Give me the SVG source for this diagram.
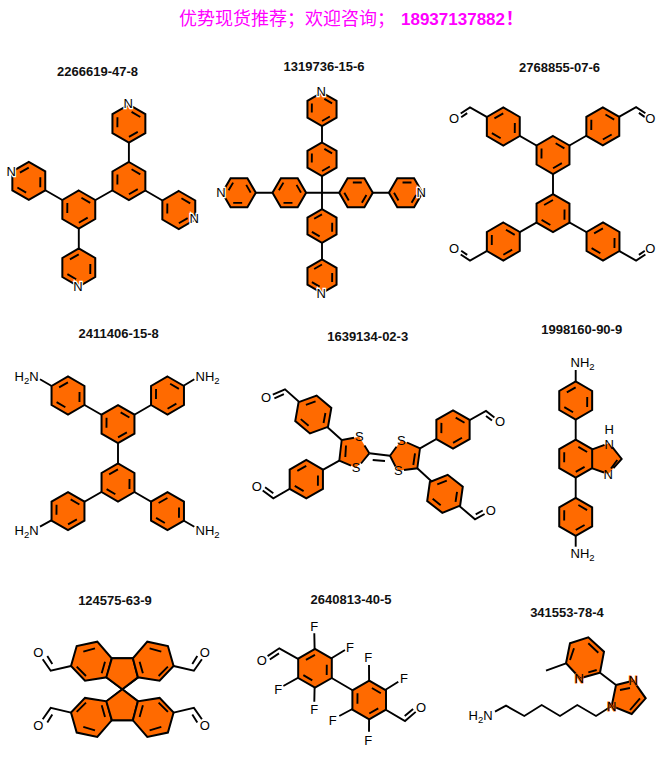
<svg xmlns="http://www.w3.org/2000/svg" xmlns:xlink="http://www.w3.org/1999/xlink" width="672" height="758" viewBox="0 0 672 758">
<style>
text{font-family:"Liberation Sans","Noto Sans CJK SC",sans-serif}
.h{font-size:18px;fill:#f0f}
.t{font-size:13px;font-weight:bold;fill:#111;text-anchor:middle}
.a{font-size:13px;fill:#000;text-anchor:middle;paint-order:stroke;stroke:#fff;stroke-width:2.4px}
.i{stroke:#ff6a00;stroke-width:1.2px}
.n{stroke:none}
.s{font-size:13px;fill:#000;paint-order:stroke;stroke:#fff;stroke-width:1.5px}
.sub{font-size:9.5px}
.ring{fill:#ff6a00;stroke:#000;stroke-width:2;stroke-linejoin:miter;vector-effect:non-scaling-stroke}
.f{fill:#ff6a00;stroke:none}
.d{fill:none;stroke:#000;stroke-width:1.9;vector-effect:non-scaling-stroke}
#connectors path,#connectors use{fill:none;stroke:#000;stroke-width:1.9}
</style>
<defs>
<g id="r"><polygon class="ring" points="0,-1 .866,-.5 .866,.5 0,1 -.866,.5 -.866,-.5"/><path class="d" d="M.14 -.62L.6 -.35M.467 .431L.003 .695M-.607 .189L-.603 -.345"/></g>
<path id="cho" d="M0 0L-16.7 -9.5L-26 -3.4M-19.5 -3.8L-25.5 .4"/>
<g id="fc"><path d="M71 666L50.7 670.7L42.7 659.3M52.3 664L47.3 656"/></g>
<g id="fl"><polygon class="ring" points="122.3,689.3 106.7,677.3 111.7,658.3 132.7,658.3 138.3,677.3"/><polygon class="ring" points="111.7,658.3 106.7,677.3 85,680.7 71,666 76.7,646 97.3,641.7"/><path class="d" d="M83.3 651.7L95 648.3M105 661.7L101.7 673.3M76.7 666.7L86 676"/></g>
</defs>
<rect width="672" height="758" fill="#fff"/>
<text class="h" x="179" y="25">优势现货推荐；欢迎咨询；<tspan font-weight="bold" font-size="17" x="401">18937137882</tspan><tspan font-weight="bold" x="505.5">！</tspan></text>
<g id="connectors">
<path d="M128.9 181V123.7M128.9 181L78.8 209.5M128.9 181L178.8 210M78.8 209.5L28.8 180.8M78.8 209.5V267.5"/>
<path d="M322 109V276M239 192.7H405.7"/>
<path d="M553 155V213.2M553 155L503.3 126.5M553 155L602.8 126.3M553 213.2L503.3 241.5M553 213.2L603 241.5"/>
<use href="#cho" transform="translate(486.7,116.9)"/>
<use href="#cho" transform="translate(619.4,116.7) scale(-1,1)"/>
<use href="#cho" transform="translate(486.7,251.1) scale(1,-1)"/>
<use href="#cho" transform="translate(619.4,251.1) scale(-1,-1)"/>
<path d="M118 424.2V482.5M118 424.2L68 395.5M118 424.2L167.5 395.5M118 482.5L68 511.2M118 482.5L167.5 511.2M68 395.5L40 379.3M167.5 395.5L194.3 379.3M68 511.2L40 526.7M167.5 511.2L194.3 526.7"/>
<path d="M313.3 414.5L341.7 440M313.3 414.5L285 389.3L272.8 394.7M283.9 394.2L274.4 398.4"/>
<path d="M306.3 479.2L339.3 460.7M306.3 479.2L273.3 498.3L262.7 490.5M273.3 493.3L265.1 487.3"/>
<path d="M453 429.5L420 448.3M453 429.5L486 411L494.4 417.4M486 416L492 420.6"/>
<path d="M445 493.8L417.3 468.3M445 493.8L475 519.3L484.6 514M475.7 514.4L482.7 510.5"/>
<path d="M369.3 453.3L390 455.7M372.7 460L385 461"/>
<path d="M575.7 370V546.7"/>
<use href="#fc"/>
<use href="#fc" transform="translate(244.6,0) scale(-1,1)"/>
<use href="#fc" transform="translate(0,1378.6) scale(1,-1)"/>
<use href="#fc" transform="translate(244.6,1378.6) scale(-1,-1)"/>
<path d="M315 668.3L369.2 700M315 668.3L314.3 633.3M315 668.3L345 650M315 668.3L283.3 686M315 668.3L314.3 701.7M315 668.3L279.3 648.3L267.6 656.1M279 653.4L269.8 659.5"/>
<path d="M369.2 700L369 665M369.2 700L398.3 681.7M369.2 700L339.3 716M369.2 700L369 731.7M369.2 700L405 721L415.7 711.9M404.7 716L413.1 708.9"/>
<path d="M566 663.3L546 670.7M600 672.7L616 685M611.7 706L596 716L577.3 705L560 716L541.7 705L524.3 716L506 705.7L495 711.7"/>
</g>
<g id="m1">
<text class="t" x="97.5" y="76">2266619-47-8</text>
<use href="#r" transform="translate(128.9,123.7) scale(19)"/>
<use href="#r" transform="translate(128.9,181) scale(19)"/>
<use href="#r" transform="translate(78.8,209.5) scale(19)"/>
<use href="#r" transform="translate(178.8,210) scale(19)"/>
<use href="#r" transform="translate(28.8,180.8) rotate(60) scale(19)"/>
<use href="#r" transform="translate(78.8,267.5) rotate(60) scale(19)"/>
<text class="a" x="128.3" y="107.9">N</text>
<text class="a" x="11.3" y="175.6">N</text>
<text class="a" x="194.3" y="222.9">N</text>
<text class="a" x="78" y="290.6">N</text>
</g>
<g id="m2">
<text class="t" x="324" y="71">1319736-15-6</text>
<use href="#r" transform="translate(322,109.3) scale(16.8)"/>
<use href="#r" transform="translate(322,159.3) scale(16.8)"/>
<use href="#r" transform="translate(322,226) rotate(60) scale(16.8)"/>
<use href="#r" transform="translate(322,276.2) rotate(60) scale(16.8)"/>
<use href="#r" transform="translate(289.3,192.7) rotate(30) scale(16.8)"/>
<use href="#r" transform="translate(239,192.7) rotate(30) scale(16.8)"/>
<use href="#r" transform="translate(356,192.7) rotate(-30) scale(16.8)"/>
<use href="#r" transform="translate(405.7,192.7) rotate(-30) scale(16.8)"/>
<text class="a" x="321.3" y="96.3">N</text>
<text class="a" x="321.3" y="297.6">N</text>
<text class="a" x="221" y="197.3">N</text>
<text class="a" x="421.3" y="197.3">N</text>
</g>
<g id="m3">
<text class="t" x="559.5" y="71.7">2768855-07-6</text>
<use href="#r" transform="translate(553,155) scale(19)"/>
<use href="#r" transform="translate(553,213.2) rotate(60) scale(19)"/>
<use href="#r" transform="translate(503.3,126.5) rotate(60) scale(19)"/>
<use href="#r" transform="translate(602.8,126.3) scale(19)"/>
<use href="#r" transform="translate(503.3,241.5) scale(19)"/>
<use href="#r" transform="translate(603,241.5) rotate(60) scale(19)"/>
<text class="a" x="454" y="123">O</text>
<text class="a" x="650.3" y="123.3">O</text>
<text class="a" x="454" y="253">O</text>
<text class="a" x="650.3" y="253">O</text>
</g>
<g id="m4">
<text class="t" x="118.7" y="337.7">2411406-15-8</text>
<use href="#r" transform="translate(118,424.2) scale(19)"/>
<use href="#r" transform="translate(118,482.5) rotate(60) scale(19)"/>
<use href="#r" transform="translate(68,395.5) rotate(60) scale(19)"/>
<use href="#r" transform="translate(167.5,395.5) scale(19)"/>
<use href="#r" transform="translate(68,511.2) scale(19)"/>
<use href="#r" transform="translate(167.5,511.2) rotate(60) scale(19)"/>
<text class="s" x="14.5" y="381.3">H<tspan class="sub" dy="3">2</tspan><tspan dy="-3">N</tspan></text>
<text class="s" x="195.5" y="381.3">NH<tspan class="sub" dy="3">2</tspan></text>
<text class="s" x="14.5" y="534.8">H<tspan class="sub" dy="3">2</tspan><tspan dy="-3">N</tspan></text>
<text class="s" x="195.5" y="534.8">NH<tspan class="sub" dy="3">2</tspan></text>
</g>
<g id="m5">
<text class="t" x="367.7" y="340.7">1639134-02-3</text>
<polygon class="f" points="369.3,453.3 359.3,436.7 341.7,440 339.3,460.7 356,467.7"/>
<polygon class="f" points="390,455.7 401.3,440 420,448.3 417.3,468.3 398.3,470.7"/>
<path class="d" d="M369.3 453.3L364.5 445.5M354 437.7L341.7 440L339.3 460.7L351 465.6M361 463.5L369.3 453.3M390 455.7L396.5 446.7M407 442.5L420 448.3L417.3 468.3L404 470M395.5 466.5L390 455.7"/>
<path class="d" d="M346 445.5L345.3 457M415 453.3L413.3 465"/>
<use href="#r" transform="translate(313.3,414.5) rotate(70) scale(19.2)"/>
<use href="#r" transform="translate(306.3,479.2) rotate(60) scale(19.2)"/>
<use href="#r" transform="translate(453,429.5) scale(19.2)"/>
<use href="#r" transform="translate(445,493.8) rotate(68) scale(19.2)"/>
<text class="a n" x="359.3" y="441.2">S</text>
<text class="a n" x="356" y="472.3">S</text>
<text class="a n" x="401.3" y="444.6">S</text>
<text class="a n" x="398.3" y="475.3">S</text>
<text class="a" x="266" y="402.3">O</text>
<text class="a" x="256.7" y="490.6">O</text>
<text class="a" x="500" y="426.3">O</text>
<text class="a" x="490.7" y="515.3">O</text>
</g>
<g id="m6">
<text class="t" x="581.7" y="334.3">1998160-90-9</text>
<polygon class="f" points="592.3,449.3 592.3,468.3 608.3,474 621.7,459 609.3,443.3"/>
<path class="d" d="M592.3 449.3L604.5 444.9M612.5 447.4L621.7 459L613.5 468.2M604 472.5L592.3 468.3M617.3 460L611 468.5"/>
<use href="#r" transform="translate(575.7,400.5) rotate(60) scale(19)"/>
<use href="#r" transform="translate(575.7,458.7) scale(19)"/>
<use href="#r" transform="translate(575.7,516.8) scale(19)"/>
<text class="s" x="570.5" y="367.3">NH<tspan class="sub" dy="3">2</tspan></text>
<text class="s" x="570.5" y="558.3">NH<tspan class="sub" dy="3">2</tspan></text>
<text class="a n" x="609.3" y="448.5">N</text>
<text class="a n" x="609.3" y="433.7">H</text>
<text class="a n" x="608.3" y="478.6">N</text>
</g>
<g id="m7">
<text class="t" x="115" y="605.3">124575-63-9</text>
<use href="#fl"/>
<use href="#fl" transform="translate(244.6,0) scale(-1,1)"/>
<use href="#fl" transform="translate(0,1378.6) scale(1,-1)"/>
<use href="#fl" transform="translate(244.6,1378.6) scale(-1,-1)"/>
<text class="a" x="38.3" y="657.3">O</text>
<text class="a" x="204.7" y="657.3">O</text>
<text class="a" x="38.3" y="729.6">O</text>
<text class="a" x="204.7" y="729.6">O</text>
</g>
<g id="m8">
<text class="t" x="351" y="604.3">2640813-40-5</text>
<use href="#r" transform="translate(315,668.3) rotate(60) scale(19.4)"/>
<use href="#r" transform="translate(369.2,700) scale(19.4)"/>
<text class="a" x="314.3" y="631.3">F</text>
<text class="a" x="350" y="651.9">F</text>
<text class="a" x="278.3" y="693.6">F</text>
<text class="a" x="314.3" y="713.6">F</text>
<text class="a" x="368.3" y="662.3">F</text>
<text class="a" x="404" y="682.9">F</text>
<text class="a" x="332.7" y="724.6">F</text>
<text class="a" x="368.3" y="745.3">F</text>
<text class="a" x="261.7" y="664.6">O</text>
<text class="a" x="421" y="711.9">O</text>
</g>
<g id="m9">
<text class="t" x="567" y="617.3">341553-78-4</text>
<polygon class="ring" points="570,643.3 588.3,637.3 604,651.7 600,672.7 580,678.3 566,663.3"/>
<path class="d" d="M574 648.3L570 660M588.3 643.3L598.3 652.7M588.3 672.3L596.7 670"/>
<polygon class="ring" points="616,685 633.3,680.7 645.7,698.3 631.7,714 611.7,706"/>
<path class="d" d="M620 690L630 688M640 698.3L630 710"/>
<text class="a i" x="579.3" y="682.9">N</text>
<text class="a i" x="633.3" y="685.3">N</text>
<text class="a i" x="611.7" y="710.6">N</text>
<text class="s" x="468.5" y="720.3">H<tspan class="sub" dy="3">2</tspan><tspan dy="-3">N</tspan></text>
</g>
</svg>
